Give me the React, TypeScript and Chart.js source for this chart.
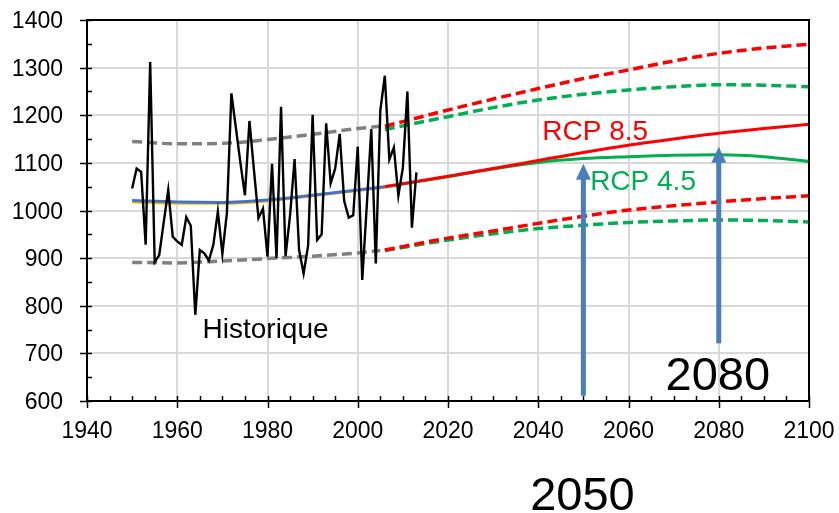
import React, { useEffect, useRef } from "react";
import { Chart, registerables } from "chart.js";

Chart.register(...registerables);

// ---- Data ----
const HIST_START_YEAR = 1950;
const HIST_VALUES = [
  1046, 1088, 1081, 928, 1312, 892, 906, 975, 1043, 945,
  935, 928, 986, 968, 781, 917, 910, 895, 928, 998,
  909, 995, 1246, 1173, 1100, 1032, 1188, 1085, 984, 1004,
  903, 1098, 900, 1218, 904, 990, 1108, 917, 868, 926,
  1201, 938, 950, 1183, 1057, 1088, 1161, 1020, 985, 990,
  1134, 854, 1010, 1171, 889, 1210, 1283, 1107, 1132, 1031,
  1090, 1250, 964, 1080,
];

const TREND_YEARS = [1950, 1960, 1970, 1980, 1990, 2000, 2006];
const TREND_BLUE = [1021, 1018, 1017, 1022, 1032, 1043, 1050];
const TREND_YELLOW = [1018, 1015, 1015, 1020, 1031, 1042, 1049];

const ENV_HIST_YEARS = [1950, 1960, 1970, 1980, 1990, 2000, 2005];
const ENV_HIST_UPPER = [1145, 1140, 1141, 1149, 1160, 1172, 1177];
const ENV_HIST_LOWER = [891, 890, 894, 899, 904, 911, 916];

const PROJ_YEARS = [2006, 2020, 2030, 2040, 2050, 2060, 2070, 2080, 2090, 2100];
const RCP85_MEAN = [1050, 1072, 1088, 1105, 1122, 1137, 1150, 1162, 1172, 1181];
const RCP45_MEAN = [1050, 1071, 1087, 1101, 1109, 1113, 1116, 1117, 1113, 1103];
const RCP85_UPPER = [1177, 1211, 1234, 1256, 1277, 1295, 1314, 1330, 1341, 1349];
const RCP45_UPPER = [1170, 1197, 1216, 1232, 1244, 1253, 1260, 1264, 1263, 1260];
const RCP85_LOWER = [917, 942, 957, 973, 988, 1001, 1010, 1018, 1025, 1031];
const RCP45_LOWER = [916, 938, 951, 962, 969, 975, 978, 980, 979, 976];

const X_MIN = 1940;
const X_MAX = 2100;
const X_STEP = 20;
const X_MINOR = 5;
const Y_MIN = 600;
const Y_MAX = 1400;
const Y_STEP = 100;
const Y_MINOR = 50;

// Arrows: year, base value, tip value
const ARROW_YEARS = [2050, 2080];
const ARROW_BASES = [611, 721];
const ARROW_TIPS = [1098, 1134];

// Text annotations (anchored left/baseline in data coordinates)
const NOTE_TEXTS = ["Historique", "RCP 8.5", "RCP 4.5", "2080", "2050"];
const NOTE_YEARS = [1965.6, 2040.9, 2051.5, 2068.2, 2038.2];
const NOTE_VALUES = [733, 1147, 1042, 623, 371];

// ---- Styles ----
const FONT = '"Liberation Sans", Arial, sans-serif';
const TICK_FONT_SIZE = 23;
const NOTE_COLORS = ["#000000", "#FF0000", "#00B050", "#000000", "#000000"];
const NOTE_SIZES = [28, 28, 28, 47, 47];
const ARROW_COLOR = "#4A7EBB";

const pts = (xs: number[], ys: number[]) => xs.map((x, i) => ({ x, y: ys[i] }));

const decorPlugin = {
  id: "decor",
  afterDatasetsDraw(chart: any) {
    const { ctx, chartArea: a, scales } = chart;
    const xs = scales.x;
    const ys = scales.y;
    ctx.save();
    // box
    ctx.strokeStyle = "#000";
    ctx.lineWidth = 2;
    ctx.strokeRect(a.left, a.top, a.right - a.left, a.bottom - a.top);
    // ticks
    ctx.lineWidth = 1.5;
    ctx.beginPath();
    for (let v = Y_MIN; v <= Y_MAX + 0.001; v += Y_MINOR) {
      const py = Math.round(ys.getPixelForValue(v)) + 0.5;
      const major = (v - Y_MIN) % Y_STEP === 0;
      ctx.moveTo(major ? a.left - 7 : a.left, py);
      ctx.lineTo(a.left + 5, py);
    }
    for (let v = X_MIN; v <= X_MAX + 0.001; v += X_MINOR) {
      const px = Math.round(xs.getPixelForValue(v)) + 0.5;
      const major = (v - X_MIN) % X_STEP === 0;
      ctx.moveTo(px, a.bottom - 5);
      ctx.lineTo(px, major ? a.bottom + 7 : a.bottom);
    }
    ctx.stroke();

    // tick labels
    ctx.fillStyle = "#000";
    ctx.font = `${TICK_FONT_SIZE}px ${FONT}`;
    ctx.textBaseline = "alphabetic";
    ctx.textAlign = "right";
    for (let v = Y_MIN; v <= Y_MAX + 0.001; v += Y_STEP) {
      ctx.fillText(String(v), a.left - 24, ys.getPixelForValue(v) + 8);
    }
    ctx.textAlign = "center";
    for (let v = X_MIN; v <= X_MAX + 0.001; v += X_STEP) {
      ctx.fillText(String(v), xs.getPixelForValue(v), a.bottom + 37);
    }

    // arrows
    ctx.fillStyle = ARROW_COLOR;
    ARROW_YEARS.forEach((yr, i) => {
      const px = xs.getPixelForValue(yr);
      const pb = ys.getPixelForValue(ARROW_BASES[i]);
      const pt = ys.getPixelForValue(ARROW_TIPS[i]);
      const headH = 16;
      const headW = 15;
      const shaftW = 5;
      ctx.fillRect(px - shaftW / 2, pt + headH - 1, shaftW, pb - pt - headH + 1);
      ctx.beginPath();
      ctx.moveTo(px, pt);
      ctx.lineTo(px + headW / 2, pt + headH);
      ctx.lineTo(px - headW / 2, pt + headH);
      ctx.closePath();
      ctx.fill();
    });

    // notes
    ctx.textAlign = "left";
    ctx.textBaseline = "alphabetic";
    NOTE_TEXTS.forEach((t, i) => {
      ctx.font = `${NOTE_SIZES[i]}px ${FONT}`;
      ctx.fillStyle = NOTE_COLORS[i];
      ctx.fillText(t, xs.getPixelForValue(NOTE_YEARS[i]), ys.getPixelForValue(NOTE_VALUES[i]));
    });
    ctx.restore();
  },
};

export default function App() {
  const ref = useRef<HTMLCanvasElement | null>(null);
  useEffect(() => {
    if (!ref.current) return;
    const histPts = HIST_VALUES.map((v, i) => ({ x: HIST_START_YEAR + i, y: v }));
    const smooth = { pointRadius: 0, cubicInterpolationMode: "monotone" as const, fill: false };
    const dash = [10, 5];
    const chart = new Chart(ref.current, {
      type: "line",
      data: {
        datasets: [
          { data: histPts, borderColor: "#000", borderWidth: 2.4, pointRadius: 0, tension: 0, order: 0 },
          { data: pts(PROJ_YEARS, RCP45_MEAN), borderColor: "#00B050", borderWidth: 3, ...smooth, order: 2 },
          { data: pts(PROJ_YEARS, RCP85_MEAN), borderColor: "#FF0000", borderWidth: 3, ...smooth, order: 1 },
          { data: pts(PROJ_YEARS, RCP45_UPPER), borderColor: "#00B050", borderWidth: 3.5, borderDash: dash, ...smooth, order: 4 },
          { data: pts(PROJ_YEARS, RCP85_UPPER), borderColor: "#FF0000", borderWidth: 3.5, borderDash: dash, ...smooth, order: 3 },
          { data: pts(PROJ_YEARS, RCP45_LOWER), borderColor: "#00B050", borderWidth: 3.5, borderDash: dash, ...smooth, order: 4 },
          { data: pts(PROJ_YEARS, RCP85_LOWER), borderColor: "#FF0000", borderWidth: 3.5, borderDash: dash, ...smooth, order: 3 },
          { data: pts(ENV_HIST_YEARS, ENV_HIST_UPPER), borderColor: "#808080", borderWidth: 3.5, borderDash: dash, ...smooth, order: 5 },
          { data: pts(ENV_HIST_YEARS, ENV_HIST_LOWER), borderColor: "#808080", borderWidth: 3.5, borderDash: dash, ...smooth, order: 5 },
          { data: pts(TREND_YEARS, TREND_BLUE), borderColor: "#4472C4", borderWidth: 3, ...smooth, order: 6 },
          { data: pts(TREND_YEARS, TREND_YELLOW), borderColor: "#FFC000", borderWidth: 3, ...smooth, order: 7 },
        ],
      },
      options: {
        responsive: false,
        animation: false,
        devicePixelRatio: 1,
        layout: { padding: { left: 0, right: 30, top: 20, bottom: 0 } },
        plugins: { legend: { display: false }, tooltip: { enabled: false } },
        scales: {
          x: {
            type: "linear",
            min: X_MIN,
            max: X_MAX,
            afterFit: (s: any) => { s.height = 112; },
            ticks: { stepSize: X_STEP, display: false },
            grid: { color: "#d9d9d9", lineWidth: 2, drawTicks: false },
            border: { display: false },
          },
          y: {
            type: "linear",
            min: Y_MIN,
            max: Y_MAX,
            afterFit: (s: any) => { s.width = 87; },
            ticks: { stepSize: Y_STEP, display: false },
            grid: { color: "#d9d9d9", lineWidth: 2, drawTicks: false },
            border: { display: false },
          },
        },
      },
      plugins: [decorPlugin],
    });
    return () => chart.destroy();
  }, []);
  return (
    <div style={{ position: "fixed", left: 0, top: 0, width: 839, height: 513, background: "#fff" }}>
      <canvas ref={ref} width={839} height={513} style={{ display: "block" }} />
    </div>
  );
}
